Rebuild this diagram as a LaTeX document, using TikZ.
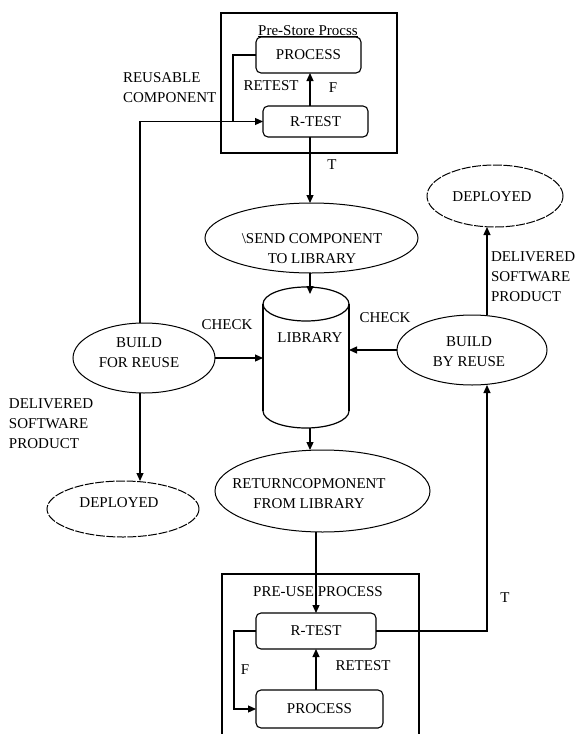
\documentclass[tikz,border=0pt]{standalone}
\usepackage{fontspec}
\setmainfont{Liberation Serif}
\usetikzlibrary{arrows.meta,shapes.geometric}
\begin{document}
\begin{tikzpicture}[x=1pt,y=-1pt,
  every node/.style={font=\fontsize{15pt}{20pt}\selectfont, inner sep=0pt, outer sep=0pt},
  ell/.style={draw, ellipse, line width=1pt},
  dep/.style={draw, ellipse, line width=1pt, dash pattern=on 9pt off 1.5pt},
  rbox/.style={draw, rounded corners=5pt, line width=1.1pt},
  ln/.style={line width=1.2pt},
  arr/.style={ln, -{Triangle[length=8pt,width=7pt]}},
  lbl/.style={align=left},
  txt/.style={align=center}
]
\useasboundingbox (0,0) rectangle (576,734);

% helper coordinates
\coordinate (mx) at (310,0);
\coordinate (bx) at (140,0);
\coordinate (rx) at (487,0);
\coordinate (libL) at (263,0);
\coordinate (libR) at (349,0);
\coordinate (libtop) at (310,294);
\coordinate (libbot) at (310,428);
\coordinate (j1) at (233,121.5);

% Pre-store process box
\node[draw, line width=1.1pt, minimum width=176pt, minimum height=140pt] (prestore) at (309,83) {};
\node[anchor=base] (prestoret) at (308,35) {\underline{Pre-Store Procss}};
\node[rbox, minimum width=105pt, minimum height=36pt] (pr1) at (308.5,55) {PROCESS};
\node[rbox, minimum width=105pt, minimum height=31pt] (rt1) at (315.5,121.5) {R-TEST};
\node (retest1) at (271,86) {RETEST};
\node (f1) at (333,88) {F};
\node (t1) at (332,165) {T};
\node[lbl, anchor=west] (reuse) at (123,87.5) {REUSABLE\\COMPONENT};

% ellipses
\node[ell, minimum width=213pt, minimum height=70pt] (send) at (311.5,238) {};
\node[txt] (sendt) at (312,249) {{\textbackslash}SEND COMPONENT\\TO LIBRARY};

\node[ell, minimum width=142pt, minimum height=70pt] (bfr) at (144,358) {};
\node[txt] (bfrt) at (139,353) {BUILD\\FOR REUSE};

\node[ell, minimum width=150pt, minimum height=70pt] (bbr) at (472,350) {};
\node[txt] (bbrt) at (469,352) {BUILD\\BY REUSE};

\node[dep, minimum width=136pt, minimum height=62pt] (dep2) at (495,196) {};
\node (dep2t) at (492,197) {DEPLOYED};

\node[dep, minimum width=152pt, minimum height=56pt] (dep1) at (123,509) {};
\node (dep1t) at (119,503) {DEPLOYED};

\node[ell, minimum width=215pt, minimum height=82pt] (ret) at (322.5,491) {};
\node[txt] (rett) at (309,494) {RETURNCOPMONENT\\FROM LIBRARY};

% library cylinder
\draw[ln] (306,304) ellipse[x radius=43pt, y radius=17pt];
\draw[ln] (263,304) -- (263,411);
\draw[ln] (349,304) -- (349,411);
\draw[ln] (263,411) arc[start angle=180, end angle=360, x radius=43pt, y radius=17pt];
\node (lib) at (310,338) {LIBRARY};

% labels
\node (check1) at (227,325) {CHECK};
\node (check2) at (385,318) {CHECK};
\node[lbl, anchor=west] (deliv1) at (9,424) {DELIVERED\\SOFTWARE\\PRODUCT};
\node[lbl, anchor=west] (deliv2) at (491,277) {DELIVERED\\SOFTWARE\\PRODUCT};

% pre-use process box
\draw[ln] (222,740) |- (419,574) -- (419,740);
\node (preuse) at (318,592) {PRE-USE PROCESS};
\node[rbox, minimum width=120pt, minimum height=36pt] (rt2) at (316,631) {R-TEST};
\node[rbox, minimum width=127pt, minimum height=38pt] (pr2) at (319.5,709) {PROCESS};
\node (retest2) at (363,666) {RETEST};
\node (f2) at (245,670) {F};
\node (t2) at (505,598) {T};

% connectors (top)
\draw[arr] (rt1.north -| mx) -- (pr1.south -| mx);
\draw[ln] (pr1.west) -| (j1);
\draw[arr] (bfr.north -| bx) |- (rt1.west);
\draw[arr] (rt1.south -| mx) -- (send.north -| mx);
\draw[arr] (send.south -| mx) -- (libtop);
\draw[arr] (libbot) -- (ret.north -| mx);

% connectors (middle)
\draw[arr] (bfr.east) -- (bfr.east -| libL);
\draw[arr] (bbr.west) -- (bbr.west -| libR);
\draw[arr] (bfr.south -| bx) -- (dep1.north -| bx);
\draw[arr] (bbr.north -| rx) -- (dep2.south -| rx);

% connectors (bottom)
\draw[arr] (ret.south -| rt2) -- (rt2.north);
\draw[arr] (pr2.north -| rt2) -- (rt2.south);
\draw[arr] (rt2.west) -- ++(-22,0) |- (pr2.west);
\draw[arr] (rt2.east) -| (bbr.south -| rx);
\end{tikzpicture}
\end{document}
